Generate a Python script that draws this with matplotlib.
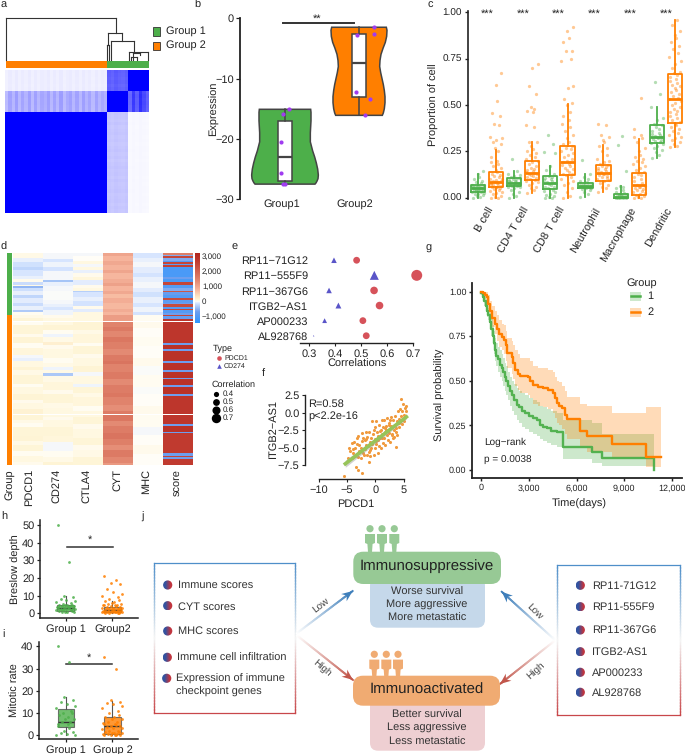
import numpy as np
import matplotlib
matplotlib.use("Agg")
import matplotlib.pyplot as plt
from matplotlib.colors import LinearSegmentedColormap, Normalize, to_rgb
from matplotlib.collections import LineCollection
from matplotlib.patches import Rectangle, FancyBboxPatch, Polygon, Circle

plt.rcParams['font.family'] = ['Liberation Sans', 'DejaVu Sans']
plt.rcParams['axes.unicode_minus'] = True
plt.rcParams['text.hinting'] = 'none'
plt.rcParams['text.hinting_factor'] = 1

W, H = 685, 754
GREEN, ORANGE = '#4daf4a', '#ff7f00'
INK = '#222222'

# ---------------- panel a
a_levels = [[0.07, 0.62, 1.0], [0.32, 1.0, 0.68], [1.0, 0.22, 0.03]]
a_col_tex = [0.2, 1.6, 0.5, 1.9, 0.4, 1.5, 0.6, 1.8, 0.3, 1.7, 0.5, 1.4, 0.9, 1.8, 0.4, 1.6,
             0.5, 1.9, 0.3, 1.2, 1.7, 0.5, 1.6, 0.4, 1.8, 0.7, 1.5, 0.3, 1.6, 0.6, 1.3, 0.8,
             1.1, 0.9, 1.2, 1.0, 0.9, 1.1, 0.4, 1.6, 0.7, 1.9, 1.2, 0.6]
a_row_tex = [1.2, 1.0, 0.8, 1.1, 0.7, 1.0, 0.9, 1.2, 1.0, 1.1, 0.9, 0.8, 1.4, 1.2, 0.8, 1.6,
             0.7, 1.1, 1.5, 0.9, 1.3, 0.6, 1.1, 1.6, 0.8, 1.4, 0.5, 1.2, 1.7, 1.0, 1.3, 0.7,
             1.5, 0.9, 1.2, 1.6, 0.8, 1.1, 1.4, 0.7, 1.3, 0.9]
a_col_n = [32, 6, 6]
a_row_n = [6, 6, 30]
dendro_segments = [
    (6.3, 60, 6.3, 18), (6.3, 18, 115.7, 18), (115.7, 18, 115.7, 33),
    (108.3, 33, 122.3, 33), (108.3, 33, 108.3, 45), (122.3, 33, 122.3, 41),
    (107.5, 45, 109.5, 45), (107.5, 45, 107.5, 60), (109.5, 45, 109.5, 60),
    (111, 41, 134.3, 41), (111, 41, 111, 60), (134.3, 41, 134.3, 51.7),
    (129, 51.7, 148, 51.7), (129, 51.7, 129, 60), (148, 51.7, 148, 60),
    (133, 53, 140, 53), (133, 53, 133, 60), (140, 53, 140, 55), (131, 57, 137, 57),
    (137, 57, 137, 60), (131, 57, 131, 60),
]

# ---------------- panel b
vio_y1 = [-15.1, -15.6, -17, -19, -20.5, -22, -23, -24, -25, -26, -26.6, -27, -27.3, -27.5]
vio_w1 = [77, 78, 78, 76, 76, 83, 89, 94, 98, 100, 99, 96, 93, 90]
vio_y2 = [-1.5, -2, -3, -4, -5, -6, -7, -8, -9, -10, -11, -12, -13, -14, -15, -15.7, -16.1]
vio_w2 = [82, 84, 83, 79, 72, 66, 63, 62, 65, 69, 73, 76, 78, 78, 76, 73, 70]
b_q1, b_med, b_q3 = [-27, -13], [-23, -7.4], [-17, -2.7]
b_lo, b_hi = [-27.5, -16.1], [-15.1, -1.5]
b_px1 = [0.97, 0.95, 0.95, 0.97, 1.0, 1.06]
b_py1 = [-15.9, -20.6, -25.7, -27.4, -27.5, -15.1]
b_px2 = [1.97, 1.96, 2.15, 2.08, 2.2, 2.2]
b_py2 = [-2.8, -12.2, -13.4, -16.1, -1.4, -2.7]

# ---------------- panel c
cell_types = ['B cell', 'CD4 T cell', 'CD8 T cell', 'Neutrophil', 'Macrophage', 'Dendritic']
c1_q1 = [.03, .062, .045, .05, 0, .295]
c1_med = [.05, .08, .08, .065, .005, .33]
c1_q3 = [.07, .105, .115, .08, .02, .39]
c1_lo = [0, 0, 0, .005, 0, .215]
c1_hi = [.125, .145, .17, .125, .065, .49]
c2_q1 = [.055, .095, .12, .09, .015, .405]
c2_med = [.085, .135, .19, .135, .07, .535]
c2_q3 = [.14, .20, .28, .175, .135, .665]
c2_lo = [0, .025, 0, .03, 0, .275]
c2_hi = [.255, .30, .505, .285, .315, .96]
c1_pts = [
 [0,.005,.01,.015,.02,.02,.025,.03,.03,.035,.035,.04,.04,.04,.045,.045,.05,.05,.05,.055,.055,.06,.06,.065,.065,.07,.07,.08,.085,.09,.10,.11,.125,.145],
 [0,.01,.02,.03,.04,.05,.055,.06,.065,.065,.07,.07,.075,.08,.08,.085,.085,.09,.09,.095,.10,.10,.105,.11,.115,.12,.13,.145,.21],
 [0,0,.005,.01,.015,.02,.03,.035,.04,.05,.055,.06,.07,.075,.08,.085,.09,.095,.10,.105,.11,.115,.13,.15,.17,.24,.245,.29,.34],
 [.005,.02,.03,.04,.045,.05,.05,.055,.055,.06,.06,.065,.065,.07,.07,.075,.08,.08,.085,.09,.10,.11,.125,.205],
 [0,0,0,0,0,.005,.005,.005,.005,.01,.01,.01,.015,.015,.02,.02,.025,.03,.04,.05,.055,.065,.145,.285,.335],
 [.215,.23,.245,.255,.27,.28,.29,.295,.30,.305,.31,.315,.32,.325,.33,.335,.34,.345,.35,.36,.37,.38,.39,.40,.42,.43,.49,.56,.625],
]
c2_pts = [
 [0,0,.005,.01,.02,.025,.03,.035,.04,.045,.05,.055,.06,.06,.065,.07,.07,.075,.08,.08,.085,.085,.09,.09,.095,.10,.10,.11,.115,.12,.13,.14,.15,.16,.17,.18,.19,.20,.22,.25,.27,.29,.30,.31,.32,.33,.39,.40,.44,.455,.52,.61,.67],
 [.025,.04,.05,.06,.07,.08,.085,.09,.095,.10,.105,.11,.115,.12,.125,.13,.135,.14,.145,.15,.155,.16,.17,.18,.19,.20,.21,.22,.23,.24,.25,.26,.28,.30,.30,.38,.39,.46,.47,.48,.49,.56,.60,.70,.72],
 [0,.01,.03,.05,.07,.08,.09,.10,.11,.12,.125,.13,.14,.15,.155,.16,.17,.175,.18,.19,.195,.20,.21,.22,.23,.24,.25,.26,.27,.28,.29,.30,.32,.34,.36,.38,.40,.42,.44,.46,.50,.51,.53,.59,.60,.74,.75,.79,.79,.84,.86,.90,.92],
 [.03,.05,.06,.07,.08,.09,.095,.10,.105,.11,.115,.12,.125,.13,.135,.14,.145,.15,.155,.16,.165,.17,.175,.18,.19,.20,.21,.23,.25,.27,.28,.30,.31,.33,.34,.39,.395],
 [0,0,.005,.01,.015,.02,.025,.03,.035,.04,.045,.05,.055,.06,.065,.07,.08,.09,.10,.11,.12,.13,.14,.15,.16,.17,.18,.19,.20,.21,.22,.23,.25,.27,.30,.32,.33,.34,.37,.54],
 [.275,.28,.29,.30,.31,.32,.33,.34,.35,.36,.37,.38,.39,.40,.41,.42,.43,.44,.45,.46,.47,.48,.49,.50,.51,.52,.53,.54,.55,.56,.57,.58,.59,.60,.61,.62,.63,.64,.65,.66,.67,.68,.70,.72,.74,.76,.78,.80,.82,.84,.86,.88,.90,.93,.96],
]
jitter = [-.14, .06, -.03, .13, -.09, .01, .16, -.17, .09, -.05, .11, -.12, .03, -.01, .15, -.07, .07, -.15, .04]

# ---------------- panel d
d_cols = ['PDCD1', 'CD274', 'CTLA4', 'CYT', 'MHC', 'score']
d_pdcd1 = [(60,3),(-60,3),(-150,3),(-250,2),(-120,4),(-60,2),(40,2),(-200,2),(60,1),(-500,1),(-180,2),(-60,3),(-250,2),(-90,3),(-200,2),(-70,3),(-330,1),(30,2),
           (60,2),(120,3),(30,2),(110,6),(50,2),(130,4),(20,3),(100,5),(-20,2),(-60,2),(90,4),(140,2),(60,3),(110,6),(30,2),(90,5),(130,4),(40,2),(80,4),(150,3),(110,4),(60,2),(20,3),(120,6),(140,3),(60,3),(110,4),(20,3),(90,4),(40,3),(100,4)]
d_cd274 = [(-30,4),(-120,2),(-40,3),(-130,3),(-20,6),(-400,1),(-60,3),(-20,3),(-10,6),(-30,3),(-60,2),(-120,2),(-40,3),
           (40,2),(90,5),(130,3),(20,3),(-40,2),(60,3),(200,2),(40,3),(80,6),(30,3),(60,3),(-40,2),(70,2),(-350,2),(60,4),(100,5),(40,3),(110,6),(60,3),(90,6),(40,2),(80,5),(120,6),(100,4),(-30,6),(20,4),(70,3),(130,2),(60,3)]
d_ctla4 = [(-30,2),(10,3),(90,2),(-20,2),(80,2),(-60,2),(40,3),(100,2),(-80,3),(40,2),(90,2),(-300,1),(-120,3),(-60,3),(-140,3),(40,2),(-80,2),(80,2),
           (90,4),(130,6),(60,3),(100,6),(20,2),(120,5),(40,3),(90,5),(130,4),(-30,3),(90,5),(-50,2),(120,4),(60,3),(100,6),(30,3),(80,4),(110,5),(50,3),(90,6),(120,5),(40,3),(70,5),(110,5)]
d_cyt = [(1000,2),(800,3),(950,3),(820,3),(1000,2),(780,4),(900,3),(1050,2),(800,3),(950,2),(720,3),(880,3),(760,4),(900,2),(780,2),
         (1100,4),(1450,4),(1600,3),(1400,4),(1650,3),(1500,5),(1350,4),(1600,4),(1700,2),(1450,5),(1600,5),(1350,4),(1550,5),(1650,3),(1450,5),(1300,4),(1550,3),(1650,4),(1350,3),(1550,5),(1700,4),(1500,4),(1300,3),(1600,5),(1400,4),(1150,5)]
d_mhc = [(-120,3),(-60,3),(-20,3),(-90,4),(-140,3),(-60,3),(-30,4),(-90,3),(-150,3),(-70,4),(-110,3),(-50,3),(-130,2),
         (30,4),(50,5),(15,6),(35,6),(10,8),(40,5),(-8,6),(20,8),(-15,5),(10,8),(40,6),(20,8),(-20,5),(10,7),(40,6),(15,8)]
d_score = [(1500,1),(-600,1),(2500,1),(-600,2),(-1000,1),(2500,1),(-900,1),(2600,1),(-1100,7),(-700,1),(-1100,2),(2500,2),(-1000,2),(-600,2),(2200,1),(-800,2),(-1000,2),(2400,1),(-900,2),(-700,1),(2400,2),(-1000,1),(2500,1),(-1000,2),(-700,1),(2500,1),(-800,2),
           (2800,16),(-700,1),(2900,3),(-700,1),(2900,7),(-700,1),(2900,5),(-700,1),(2900,4),(-700,1),(2900,4),(-700,1),(2900,5),(-700,1),(2800,19),(-700,1),(2900,4),(-700,1),(2700,13),(-700,2),(2500,1),(-700,1),(2700,4),(-600,1),(2600,2)]
d_gap_rows = [45, 107]
d_nrows = 141
d_group1_rows = 41
cbar_ticks = [3000, 2000, 1000, 0, -1000]
cbar_labels = ['3,000', '2,000', '1,000', '0', '−1,000']

# ---------------- panel e
genes = ['RP11−71G12', 'RP11−555F9', 'RP11−367G6', 'ITGB2−AS1', 'AP000233', 'AL928768']
corr_pdcd1 = [.483, .714, .55, .571, .507, .52]
corr_cd274 = [.396, .551, .377, .413, .36, .318]
size_pdcd1 = [24, 62, 30, 30, 24, 24]
size_cd274 = [16, 42, 16, 18, 12, 1]

# ---------------- panel f
f_x = [-5.5,-4.9,-4.7,-4.4,-4.2,-4.1,-4.0,-3.9,-3.7,-3.6,-3.5,-3.4,-3.3,-3.2,-3.1,-3.0,-2.9,-2.8,-2.6,-2.5,-2.4,-2.3,-2.2,-2.1,-2.0,-1.9,-1.8,-1.7,-1.6,-1.5,-1.4,-1.3,-1.2,-1.1,-1.0,-0.9,-0.8,-0.7,-0.6,-0.5,-0.4,-0.3,-0.2,-0.1,0,0.1,0.2,0.3,0.4,0.5,0.6,0.7,0.8,0.9,1.0,1.1,1.2,1.3,1.4,1.5,1.6,1.7,1.8,1.9,2.0,2.1,2.2,2.3,2.4,2.5,2.6,2.7,2.8,2.9,3.0,3.1,3.2,3.3,3.4,3.5,3.6,3.7,3.8,3.9,4.0,4.1,4.2,4.3,4.4,4.5,4.6,4.7,4.8,4.9,5.0,5.1,5.2,5.3,5.4,5.5,-3.0,-2.3,-1.7,-0.9,-0.1,0.5,1.2,1.9,2.4,3.0,3.6,4.2,4.8,0.2,1.0,1.7,2.6,3.3,4.0,-1.2]
f_y = [-9.1,-6.5,-5.0,-5.5,-6.5,-4.3,-5.2,-5.8,-4.2,-6.2,-5.0,-7.8,-4.5,-3.6,-6.3,-8.2,-5.4,-4.6,-6.5,-5.0,-4.0,-8.6,-5.8,-3.6,-6.1,-3.9,-5.2,-4.6,-2.8,-6.0,-3.4,-4.8,-5.6,-2.7,-4.2,-6.2,-3.6,-5.0,-1.2,-4.4,-3.1,-6.0,-2.5,-3.7,-5.1,-1.2,-4.1,-2.8,-5.8,-3.3,-1.8,-4.7,-2.6,-3.6,-5.0,-1.1,-3.0,-4.3,-2.1,-3.6,-1.1,-2.8,-4.6,-1.9,-3.2,-0.8,-2.4,-3.9,-1.4,-2.9,-4.2,-1.9,-0.6,-3.0,-2.0,-3.6,-1.1,-2.4,-0.4,-1.7,-4.9,-2.2,-1.2,-3.2,0.3,-0.9,-2.0,0.5,-1.3,1.9,-0.5,-1.6,0.3,1.2,-0.3,-1.2,0.7,-0.6,1.0,0.2,-3.3,-2.9,-3.8,-5.3,-2.1,-3.9,-3.6,-2.5,-1.7,-3.2,-2.8,-1.5,-1.0,-4.5,-2.4,-2.2,-1.0,-3.4,-1.4,-7.0]
f_fit_x = [-5.3, 5.5]
f_fit_y = [-7.3, -0.6]
f_fit_se = [0.5, 0.28]

# ---------------- panel g
g1_t = [0,100,200,300,400,460,550,650,775,830,880,950,1050,1190,1300,1400,1500,1600,1700,1820,1950,2100,2240,2400,2600,2760,3000,3250,3500,3700,3900,4120,4400,4750,5130,5130,6850,7000,7480,7580,10870,10870]
g1_s = [.99,.97,.95,.92,.89,.87,.83,.79,.75,.71,.67,.64,.62,.59,.57,.55,.52,.50,.47,.44,.42,.39,.363,.35,.33,.316,.30,.29,.28,.25,.24,.232,.22,.213,.185,.13,.13,.10,.10,.065,.065,0]
g1_lo = [.98,.95,.92,.89,.86,.84,.79,.75,.70,.65,.61,.58,.55,.52,.50,.47,.44,.42,.39,.36,.33,.31,.28,.26,.24,.23,.21,.20,.19,.17,.16,.15,.14,.13,.10,.06,.06,.04,.04,.02,.02,.02]
g1_hi = [1,.99,.98,.96,.93,.91,.88,.85,.81,.78,.74,.71,.69,.67,.65,.63,.60,.58,.55,.52,.50,.48,.46,.44,.43,.42,.40,.39,.38,.36,.35,.34,.33,.32,.29,.28,.28,.26,.26,.20,.20,.20]
g2_t = [0,120,230,350,450,565,700,850,985,1150,1300,1445,1550,1655,1925,2000,2135,2300,2450,2970,3100,3290,3600,3915,4200,4545,4650,4755,4900,5070,5250,5380,6180,6220,6640,8210,8210,10345,10345,11290]
g2_s = [1,.99,.98,.97,.93,.89,.85,.82,.79,.76,.745,.73,.70,.655,.635,.60,.56,.54,.526,.522,.50,.476,.465,.457,.445,.43,.40,.373,.36,.345,.31,.283,.283,.22,.19,.19,.142,.142,.07,.07]
g2_lo = [1,.98,.96,.94,.89,.84,.80,.76,.72,.69,.67,.65,.61,.57,.54,.51,.47,.45,.43,.42,.40,.37,.36,.35,.34,.32,.29,.26,.25,.23,.20,.17,.17,.12,.10,.10,.065,.065,.015,.015]
g2_hi = [1,1,1,1,.98,.95,.92,.89,.87,.84,.82,.81,.78,.74,.72,.70,.67,.65,.63,.63,.61,.58,.57,.57,.56,.55,.52,.50,.49,.47,.44,.41,.41,.37,.36,.32,.32,.32,.35,.35]

# ---------------- panels h / i
h_g1 = [50,29,10,9.5,8,7.5,7,6.5,6,5.5,5,5,4.5,4.5,4,4,4,3.5,3.5,3,3,3,3,2.5,2.5,2.5,2,2,2,1.5,1.5,1,1,.8,.5]
h_g2 = [21,19,17,16.5,14,12,11,10,9,8,7.5,7,6.5,6,5.5,5.5,5,5,4.5,4.5,4,4,3.5,3.5,3,3,3,2.5,2.5,2.5,2,2,2,2,1.5,1.5,1.5,1,1,1,1,.8,.8,.6,.5,.5,.4,.3,.3,.2]
h_q1, h_med, h_q3, h_lo, h_hi = [1.5, .5], [3, 2], [5, 3.5], [.5, .2], [10, 7]
i_g1 = [40,33,17,16,15,14,13,12,11,10,10,9,8,7,7,6,6,5,5,4,3,2,1.5,1,.5,0,0]
i_g2 = [35,30,16,15,14.5,14,13,12,11,10,9,8,8,7,7,6,6,5.5,5,5,4.5,4,4,3.5,3,3,2.5,2,2,1.5,1.5,1,1,1,.5,.5,.5,0,0,0,0,0]
i_q1, i_med, i_q3, i_lo, i_hi = [3.5, .5], [6, 4], [11.5, 8], [0, 0], [17, 15.5]

# ---------------- panel j
j_left_items = ['Immune scores', 'CYT scores', 'MHC scores', 'Immune cell infiltration']
j_right_items = ['RP11-71G12', 'RP11-555F9', 'RP11-367G6', 'ITGB2-AS1', 'AP000233', 'AL928768']

fig = plt.figure(figsize=(W / 100, H / 100), dpi=100, facecolor='white')


def pxax(l, t, r, b):
    ax = fig.add_axes([l / W, 1 - b / H, (r - l) / W, (b - t) / H])
    ax.patch.set_alpha(0)
    return ax


def clean(ax, lw=1.1, keep=('left', 'bottom')):
    for s in ax.spines:
        ax.spines[s].set_visible(s in keep)
        ax.spines[s].set_linewidth(lw)
        ax.spines[s].set_color(INK)
    ax.tick_params(colors=INK, width=lw * .8, length=2.5, pad=1.5)


def expand(runs, n):
    vals = []
    for v, c in runs:
        vals += [v] * c
    vals = (vals + [vals[-1]] * n)[:n]
    return np.array(vals, float)


def strip(ax, pos, vals, color, spread=1.0, s=5, alpha=.5):
    off = np.array([jitter[i % len(jitter)] for i in range(len(vals))]) * spread
    ax.scatter(pos + off, vals, s=s, color=color, alpha=alpha, linewidths=0, zorder=2)


ov = fig.add_axes([0, 0, 1, 1])
ov.set_xlim(0, W)
ov.set_ylim(H, 0)
ov.set_axis_off()
ov.set_autoscale_on(False)


def T(x, y, s, size=7.5, ha='left', va='center', **kw):
    kw.setdefault('color', INK)
    ov.text(x, y, s, fontsize=size, ha=ha, va=va, **kw)


for lab, x, y in [('a', 1, 5), ('b', 194, 5), ('c', 428, 5), ('d', 1, 247), ('e', 232, 247), ('f', 262, 373),
                  ('g', 426, 248), ('h', 1, 516), ('i', 2, 634), ('j', 141, 517)]:
    T(x, y, lab, size=8)

# ---- a
axa = pxax(5.3, 70, 149.3, 212.7)
a_mat = np.zeros((sum(a_row_n), sum(a_col_n)))
rr = np.repeat(np.arange(3), a_row_n)
cc = np.repeat(np.arange(3), a_col_n)
for i in range(a_mat.shape[0]):
    for j in range(a_mat.shape[1]):
        lev = a_levels[rr[i]][cc[j]]
        if lev >= 1:
            a_mat[i, j] = 1
        else:
            a_mat[i, j] = np.clip(lev * (0.7 + 0.22 * a_col_tex[j] + 0.08 * a_row_tex[i]), 0, 1)
cmap_a = LinearSegmentedColormap.from_list('wb', ['white', '#0000ff'])
x_edges = np.concatenate([np.linspace(0, 102, 33), np.linspace(102, 123, 7)[1:], np.linspace(123, 144, 7)[1:]])
y_edges = np.concatenate([np.linspace(0, 20.7, 7), np.linspace(20.7, 42, 7)[1:], np.linspace(42, 142.7, 31)[1:]])
axa.pcolormesh(x_edges, y_edges, a_mat, cmap=cmap_a, vmin=0, vmax=1)
axa.set_xlim(0, 144)
axa.set_ylim(142.7, 0)
axa.set_axis_off()
for x0, y0, x1, y1 in dendro_segments:
    ov.plot([x0, x1], [y0, y1], color='#333333', lw=.8, solid_capstyle='projecting')
ov.add_patch(Rectangle((5.7, 61), 101.3, 6.7, color=ORANGE, lw=0))
ov.add_patch(Rectangle((107, 61), 42.3, 6.7, color=GREEN, lw=0))
ov.add_patch(Rectangle((153, 27.3), 7, 8.5, fc=GREEN, ec='#333333', lw=.6))
ov.add_patch(Rectangle((153, 41.7), 7, 8.5, fc=ORANGE, ec='#333333', lw=.6))
T(166.3, 31, 'Group 1', size=7.6)
T(166.3, 45.3, 'Group 2', size=7.6)

# ---- b
axb = pxax(240, 18.2, 395, 199.2)
axb.set_xlim(1 - 45 / 74, 2 + 36 / 74)
axb.set_ylim(-30, 0)
clean(axb, keep=('left',))
axb.spines['left'].set_linewidth(1.3)
axb.tick_params(axis='x', length=0, labelsize=7.8, pad=0)
axb.tick_params(axis='y', labelsize=7.6, length=3)
for c, ys, ws, col in [(1, vio_y1, vio_w1, GREEN), (2, vio_y2, vio_w2, ORANGE)]:
    hw = np.array(ws) / 3 / 74
    xl = np.concatenate([c - hw, (c + hw)[::-1]])
    yl = np.concatenate([ys, ys[::-1]])
    axb.fill(xl, yl, fc=col, ec='#444444', lw=1.1, zorder=1, clip_on=False)
stats_b = [dict(q1=b_q1[i], med=b_med[i], q3=b_q3[i], whislo=b_lo[i], whishi=b_hi[i]) for i in range(2)]
axb.bxp(stats_b, positions=[1, 2], widths=.2, showfliers=False, showcaps=False, patch_artist=True,
        boxprops=dict(facecolor='white', edgecolor='#444444', lw=1.1),
        medianprops=dict(color='#444444', lw=1.6), whiskerprops=dict(color='#444444', lw=1.1), zorder=2)
axb.scatter(b_px1 + b_px2, b_py1 + b_py2, s=9, color='#a03cf0', zorder=4, clip_on=False, linewidths=0)
axb.set_xticks([1 - 3 / 74, 2 - 4 / 74])
axb.set_xticklabels(['Group1', 'Group2'])
axb.set_yticks([0, -10, -20, -30])
axb.set_ylabel('Expression', fontsize=8, color=INK, labelpad=-3)
ov.plot([283, 354], [23, 23], color='#333333', lw=1.4)
T(317.5, 19, '**', size=8, ha='center')

# ---- c
axc = pxax(467.7, 11, 685, 199)
axc.set_xlim(.46, 6.53)
axc.set_ylim(-.0073, 1.0073)
clean(axc, keep=('left',), lw=1.2)
xs = np.arange(1, 7)
for off, col, pts, q1, med, q3, lo, hi in [(-.25, GREEN, c1_pts, c1_q1, c1_med, c1_q3, c1_lo, c1_hi),
                                           (.25, ORANGE, c2_pts, c2_q1, c2_med, c2_q3, c2_lo, c2_hi)]:
    for i, v in enumerate(pts):
        strip(axc, xs[i] + off, v, col, spread=1.0, s=5.5, alpha=.42)
    st = [dict(q1=q1[i], med=med[i], q3=q3[i], whislo=lo[i], whishi=hi[i]) for i in range(6)]
    axc.bxp(st, positions=xs + off, widths=.4, showfliers=False, showcaps=False,
            boxprops=dict(color=col, lw=1.3), medianprops=dict(color=col, lw=2),
            whiskerprops=dict(color=col, lw=1.3), zorder=3, manage_ticks=False)
axc.set_yticks([0, .25, .5, .75, 1])
axc.set_yticklabels(['0.00', '0.25', '0.50', '0.75', '1.00'], fontsize=7.4)
axc.set_xticks(xs)
axc.set_xticklabels(cell_types, rotation=60, ha='right', rotation_mode='anchor', fontsize=8)
axc.tick_params(axis='x', length=0, pad=5)
axc.set_ylabel('Proportion of cell', fontsize=8, color=INK, labelpad=3)
for x in xs:
    axc.text(x, .99, '***', ha='center', va='center', fontsize=8, color=INK, clip_on=False)

# ---- d
norm_d = Normalize(-1440, 3227)
nodes = [(-1440, '#2e96ff'), (-700, '#6f9fee'), (-120, '#d8e6ff'), (0, '#fffef9'), (110, '#fff6d8'),
         (350, '#fde3c0'), (800, '#f6b49c'), (1500, '#df8069'), (2700, '#c13b30'), (3227, '#b2261e')]
cmap_d = LinearSegmentedColormap.from_list('d', [(norm_d(v), c) for v, c in nodes])
cmap_d.set_bad('white')
axd = pxax(12.7, 253.3, 193, 465)
for i, runs in enumerate([d_pdcd1, d_cd274, d_ctla4, d_cyt, d_mhc, d_score]):
    col = expand(runs, d_nrows)
    col[d_gap_rows] = np.nan
    axd.imshow(col[:, None], extent=(i + .015, i + .985, d_nrows, 0), aspect='auto',
               interpolation='nearest', cmap=cmap_d, norm=norm_d)
axd.set_xlim(0, 6)
axd.set_ylim(d_nrows, 0)
axd.set_axis_off()
split_px = 253.3 + d_group1_rows / d_nrows * (465 - 253.3)
ov.add_patch(Rectangle((7.3, 253.3), 4.7, split_px - 253.3, color=GREEN, lw=0))
ov.add_patch(Rectangle((7.3, split_px), 4.7, 465 - split_px, color=ORANGE, lw=0))
for lab, x in zip(['Group'] + d_cols, [9, 29, 56, 86, 117, 146, 178]):
    T(x, 469, lab, size=7.7, ha='center', va='top', rotation=90)
axcb = pxax(195, 253.3, 200, 323.3)
axcb.imshow(np.linspace(3227, -1440, 200)[:, None], extent=(0, 1, -1440, 3227), aspect='auto', cmap=cmap_d, norm=norm_d)
axcb.set_axis_off()
for v, lab in zip(cbar_ticks, cbar_labels):
    T(202, 301.7 - v * .015, lab, size=6)
T(213, 349.3, 'Type', size=6.5)
ov.scatter([218.7], [358.3], s=11, color='#d6525a', linewidths=0)
ov.scatter([218.7], [366.3], s=11, color='#5a55c8', marker='^', linewidths=0)
T(224, 358.3, 'PDCD1', size=5)
T(224, 366.3, 'CD274', size=5)
T(212, 385, 'Correlation', size=6.5)
for lab, y, sz in zip([.4, .5, .6, .7], [394.3, 402, 410, 417.7], [14, 24, 34, 46]):
    ov.scatter([216], [y], s=sz, color='black', linewidths=0)
    T(222.7, y, str(lab), size=6)

# ---- e
axe = pxax(300, 253, 415, 343)
axe.set_xlim(.3 + (300 - 309) / 260.3, .7 + (415 - 413.1) / 260.3)
axe.set_ylim(5.48, -.48)
clean(axe, keep=('bottom',), lw=1.0)
axe.spines['bottom'].set_bounds(.3 - 9 / 260.3, .7)
ys = np.arange(6)
axe.scatter(corr_pdcd1, ys, s=size_pdcd1, color='#d6525a', linewidths=0, zorder=3, clip_on=False)
axe.scatter(corr_cd274, ys, s=size_cd274, color='#5a55c8', marker='^', linewidths=0, zorder=3, clip_on=False)
axe.set_yticks(ys)
axe.set_yticklabels(genes, fontsize=8.0)
axe.tick_params(axis='y', length=0, pad=-6)
axe.tick_params(axis='x', labelsize=7.6)
axe.set_xticks([.3, .4, .5, .6, .7])
axe.set_xlabel('Correlations', fontsize=8.2, color=INK, labelpad=0)

# ---- f
axf = pxax(305, 388, 410, 479)
sx = 28.3 / 5
axf.set_xlim((305 - 375.3) / sx, (410 - 375.3) / sx)
sy = 17.5 / 2.5
axf.set_ylim((412.7 - 479) / sy, (412.7 - 388) / sy)
clean(axf, lw=1.0)
axf.spines['bottom'].set_bounds(-10, 5)
axf.spines['left'].set_bounds(-7.5, 2.5)
axf.scatter(f_x, f_y, s=5, color='#f09a3e', linewidths=0, zorder=2, clip_on=False)
axf.fill_between(f_fit_x, np.array(f_fit_y) - f_fit_se, np.array(f_fit_y) + f_fit_se, color='#999999', alpha=.45, lw=0, zorder=3)
axf.plot(f_fit_x, f_fit_y, color='#97c459', lw=2.6, zorder=4)
axf.set_xticks([-10, -5, 0, 5])
axf.set_yticks([-7.5, -5, -2.5, 0, 2.5])
axf.tick_params(labelsize=7.6)
T(308, 404, 'R=0.58', size=7.8)
T(308, 416, 'p<2.2e-16', size=7.8)
T(272.7, 428, 'ITGB2−AS1', size=7.8, ha='center', rotation=90)
T(355.5, 504, 'PDCD1', size=8, ha='center')

# ---- g
axg = pxax(472, 282.7, 681.7, 478.3)
axg.set_xlim(-565, 12607)
axg.set_ylim(-.048, 1.05)
clean(axg, lw=1.3)
axg.step(g1_t, g1_s, where='post', color=GREEN, lw=1.7, zorder=3, alpha=.95)
axg.step(g2_t, g2_s, where='post', color=ORANGE, lw=1.7, zorder=4)
axg.fill_between(g1_t, g1_lo, g1_hi, step='post', color=GREEN, alpha=.28, lw=0, zorder=1)
axg.fill_between(g2_t, g2_lo, g2_hi, step='post', color=ORANGE, alpha=.28, lw=0, zorder=2)
axg.set_xticks([0, 3000, 6000, 9000, 12000])
axg.set_xticklabels(['0', '3,000', '6,000', '9,000', '12,000'], fontsize=6.4)
axg.set_yticks([0, .25, .5, .75, 1])
axg.set_yticklabels(['0.00', '0.25', '0.50', '0.75', '1.00'], fontsize=6.4)
T(579, 504, 'Time(days)', size=7.6, ha='center')
T(440, 395, 'Survival probability', size=7.6, ha='center', rotation=90)
T(484, 442.3, 'Log−rank', size=7.5)
T(484, 460, 'p = 0.0038', size=7.5)
T(626, 283.3, 'Group', size=7.8)
for y0, col, lab, ym in [(291.7, GREEN, '1', 296), (307.7, ORANGE, '2', 312.3)]:
    ov.add_patch(Rectangle((630, y0), 11.3, 9.5, color=col, alpha=.28, lw=0))
    ov.plot([631, 640.3], [ym, ym], color=col, lw=1.8)
    T(647.3, ym, lab, size=8)

# ---- h, i
for box, xl, yl, g1, g2, q1, med, q3, lo, hi, yt, ylab, xlabs, width in [
    ((40, 520, 138, 618.3), (.45, 2.55), (-2.8, 52.8), h_g1, h_g2, h_q1, h_med, h_q3, h_lo, h_hi,
     [0, 10, 20, 30, 40, 50], 'Breslow depth', ['Group 1', 'Group2'], .36),
    ((39, 641.7, 138, 739.3), (.42, 2.55), (-1.95, 42.1), i_g1, i_g2, i_q1, i_med, i_q3, i_lo, i_hi,
     [0, 10, 20, 30, 40], 'Mitotic rate', ['Group 1', 'Group 2'], .35),
]:
    ax = pxax(*box)
    ax.set_xlim(*xl)
    ax.set_ylim(*yl)
    clean(ax, lw=1.1)
    for c, col in [(0, GREEN), (1, ORANGE)]:
        st = [dict(q1=q1[c], med=med[c], q3=q3[c], whislo=lo[c], whishi=hi[c])]
        ax.bxp(st, positions=[c + 1], widths=width, showfliers=False, showcaps=False, patch_artist=True,
               boxprops=dict(facecolor=col, edgecolor='#555555', lw=.8, alpha=.8),
               medianprops=dict(color='#333333', lw=1), whiskerprops=dict(color='#555555', lw=.8),
               zorder=1, manage_ticks=False)
    strip(ax, 1, g1, GREEN, spread=1.2, s=4, alpha=.85)
    strip(ax, 2, g2, ORANGE, spread=1.3, s=4, alpha=.85)
    ax.set_xticks([1, 2])
    ax.set_xticklabels(xlabs, fontsize=7.8)
    ax.set_yticks(yt)
    ax.tick_params(axis='y', labelsize=7.6)
    ax.set_ylabel(ylab, fontsize=7.8, color=INK, labelpad=1)
ov.plot([66.7, 113.3], [546.7, 546.7], color='#333333', lw=1.1)
T(90, 540, '*', size=8, ha='center')
ov.plot([65.7, 112.3], [664, 664], color='#333333', lw=1.1)
T(89, 657.5, '*', size=8, ha='center')


# ---- j
def grad_line(x0, y0, x1, y1, c0, c1, lw=.9, n=50):
    xs_ = np.linspace(x0, x1, n + 1)
    ys_ = np.linspace(y0, y1, n + 1)
    segs = [[(xs_[k], ys_[k]), (xs_[k + 1], ys_[k + 1])] for k in range(n)]
    a, b = np.array(to_rgb(c0)), np.array(to_rgb(c1))
    cols = [a + (b - a) * (k / (n - 1)) for k in range(n)]
    ov.add_collection(LineCollection(segs, colors=cols, linewidths=lw, capstyle='projecting'))


BLUE_E, RED_E = '#4f8fc9', '#c8474a'


def grad_box(x0, y0, x1, y1):
    ym = (y0 + y1) / 2
    ov.plot([x0, x1], [y0, y0], color=BLUE_E, lw=.9)
    ov.plot([x0, x1], [y1, y1], color=RED_E, lw=.9)
    for x in (x0, x1):
        grad_line(x, y0, x, ym, BLUE_E, '#f4f4f4')
        grad_line(x, ym, x, y1, '#f4f4f4', RED_E)


grad_box(154, 563.3, 295, 713.3)
grad_box(557.3, 565, 680.3, 715)


def arrow(x0, y0, x1, y1, col):
    grad_line(x0, y0, x1, y1, '#ffffff', col, lw=1.3)
    d = np.array([x1 - x0, y1 - y0], float)
    d /= np.hypot(*d)
    n = np.array([-d[1], d[0]])
    tip = np.array([x1, y1])
    base = tip - d * 11
    notch = tip - d * 7.5
    ov.add_patch(Polygon([tip, base + n * 4.5, notch, base - n * 4.5], color=col, lw=0, zorder=4))


arrow(296.7, 633.3, 352.7, 591, '#3f7fbb')
arrow(297, 635.5, 353, 680, '#c2574c')
arrow(555, 640, 501.7, 591.7, '#3f7fbb')
arrow(555, 640.5, 500, 684, '#c2574c')
T(321, 605, 'Low', size=7.2, ha='center', rotation=38, color='#444444')
T(322.3, 667.7, 'High', size=7.2, ha='center', rotation=-40, color='#444444')
T(535, 611.7, 'Low', size=7.2, ha='center', rotation=-45, color='#444444')
T(536, 670.7, 'High', size=7.2, ha='center', rotation=42, color='#444444')


def rbox(x0, y0, x1, y1, col, r, z=1):
    ov.add_patch(FancyBboxPatch((x0 + r, y0 + r), x1 - x0 - 2 * r, y1 - y0 - 2 * r,
                                boxstyle=f'round,pad={r},rounding_size={r}', fc=col, ec='none', zorder=z))


rbox(370, 578, 485, 627.7, '#c5d8ea', 8, 1)
rbox(353.3, 551.7, 501, 584, '#97c995', 10, 2)
rbox(370, 698, 485, 750.7, '#eecfd2', 8, 1)
rbox(353, 675.7, 500, 705.7, '#f0ab72', 10, 2)
T(427, 566, 'Immunosuppressive', size=10.6, ha='center', zorder=5)
T(427, 689.5, 'Immunoactivated', size=10.6, ha='center', zorder=5)
for y, s in [(592.5, 'Worse survival'), (604.5, 'More aggressive'), (618.3, 'More metastatic'),
             (715, 'Better survival'), (728.3, 'Less aggressive'), (742.3, 'Less metastatic')]:
    T(427, y, s, size=7.7, ha='center', zorder=5, color='#333333')


def person(x, top, col):
    ov.add_patch(Circle((x, top), 3.6, color=col, lw=0))
    t = top + 5.3
    ov.add_patch(Polygon([(x - 5, t), (x + 5, t), (x + 5, t + 9), (x + 2.6, t + 10), (x + 2, t + 18),
                          (x - 2, t + 18), (x - 2.6, t + 10), (x - 5, t + 9)], color=col, lw=0))


for x in (370, 382, 394.3):
    person(x, 528.7, '#97c995')
for x in (374.3, 386.3, 398):
    person(x, 654.3, '#f0ab72')

grad_img = np.array([[to_rgb('#34539f'), to_rgb('#c0353f')]])


def bullet(x, y, r=4.6):
    im = ov.imshow(grad_img, extent=(x - r, x + r, y + r, y - r), aspect='auto', interpolation='bilinear', zorder=3)
    c = Circle((x, y), r, transform=ov.transData)
    im.set_clip_path(c)


for s, by, ty, tx, bx in zip(j_left_items, [585, 605.7, 631, 657.3], [585, 607, 631.5, 658], [177.7, 177.7, 177.7, 177], [167.7, 167.7, 167.7, 167.3]):
    bullet(bx, by)
    T(tx, ty, s, size=7.6, color='#333333')
bullet(166.7, 678.3)
T(176.5, 679, 'Expression of immune', size=7.6, color='#333333')
T(176.5, 692.3, 'checkpoint genes', size=7.6, color='#333333')
for s, y in zip(j_right_items, [585.3, 606.7, 630, 651.7, 672.3, 692.3]):
    bullet(580.3, y)
    T(592.3, y + .3, s, size=7.6, color='#333333')

fig.savefig('out.png', dpi=100)
